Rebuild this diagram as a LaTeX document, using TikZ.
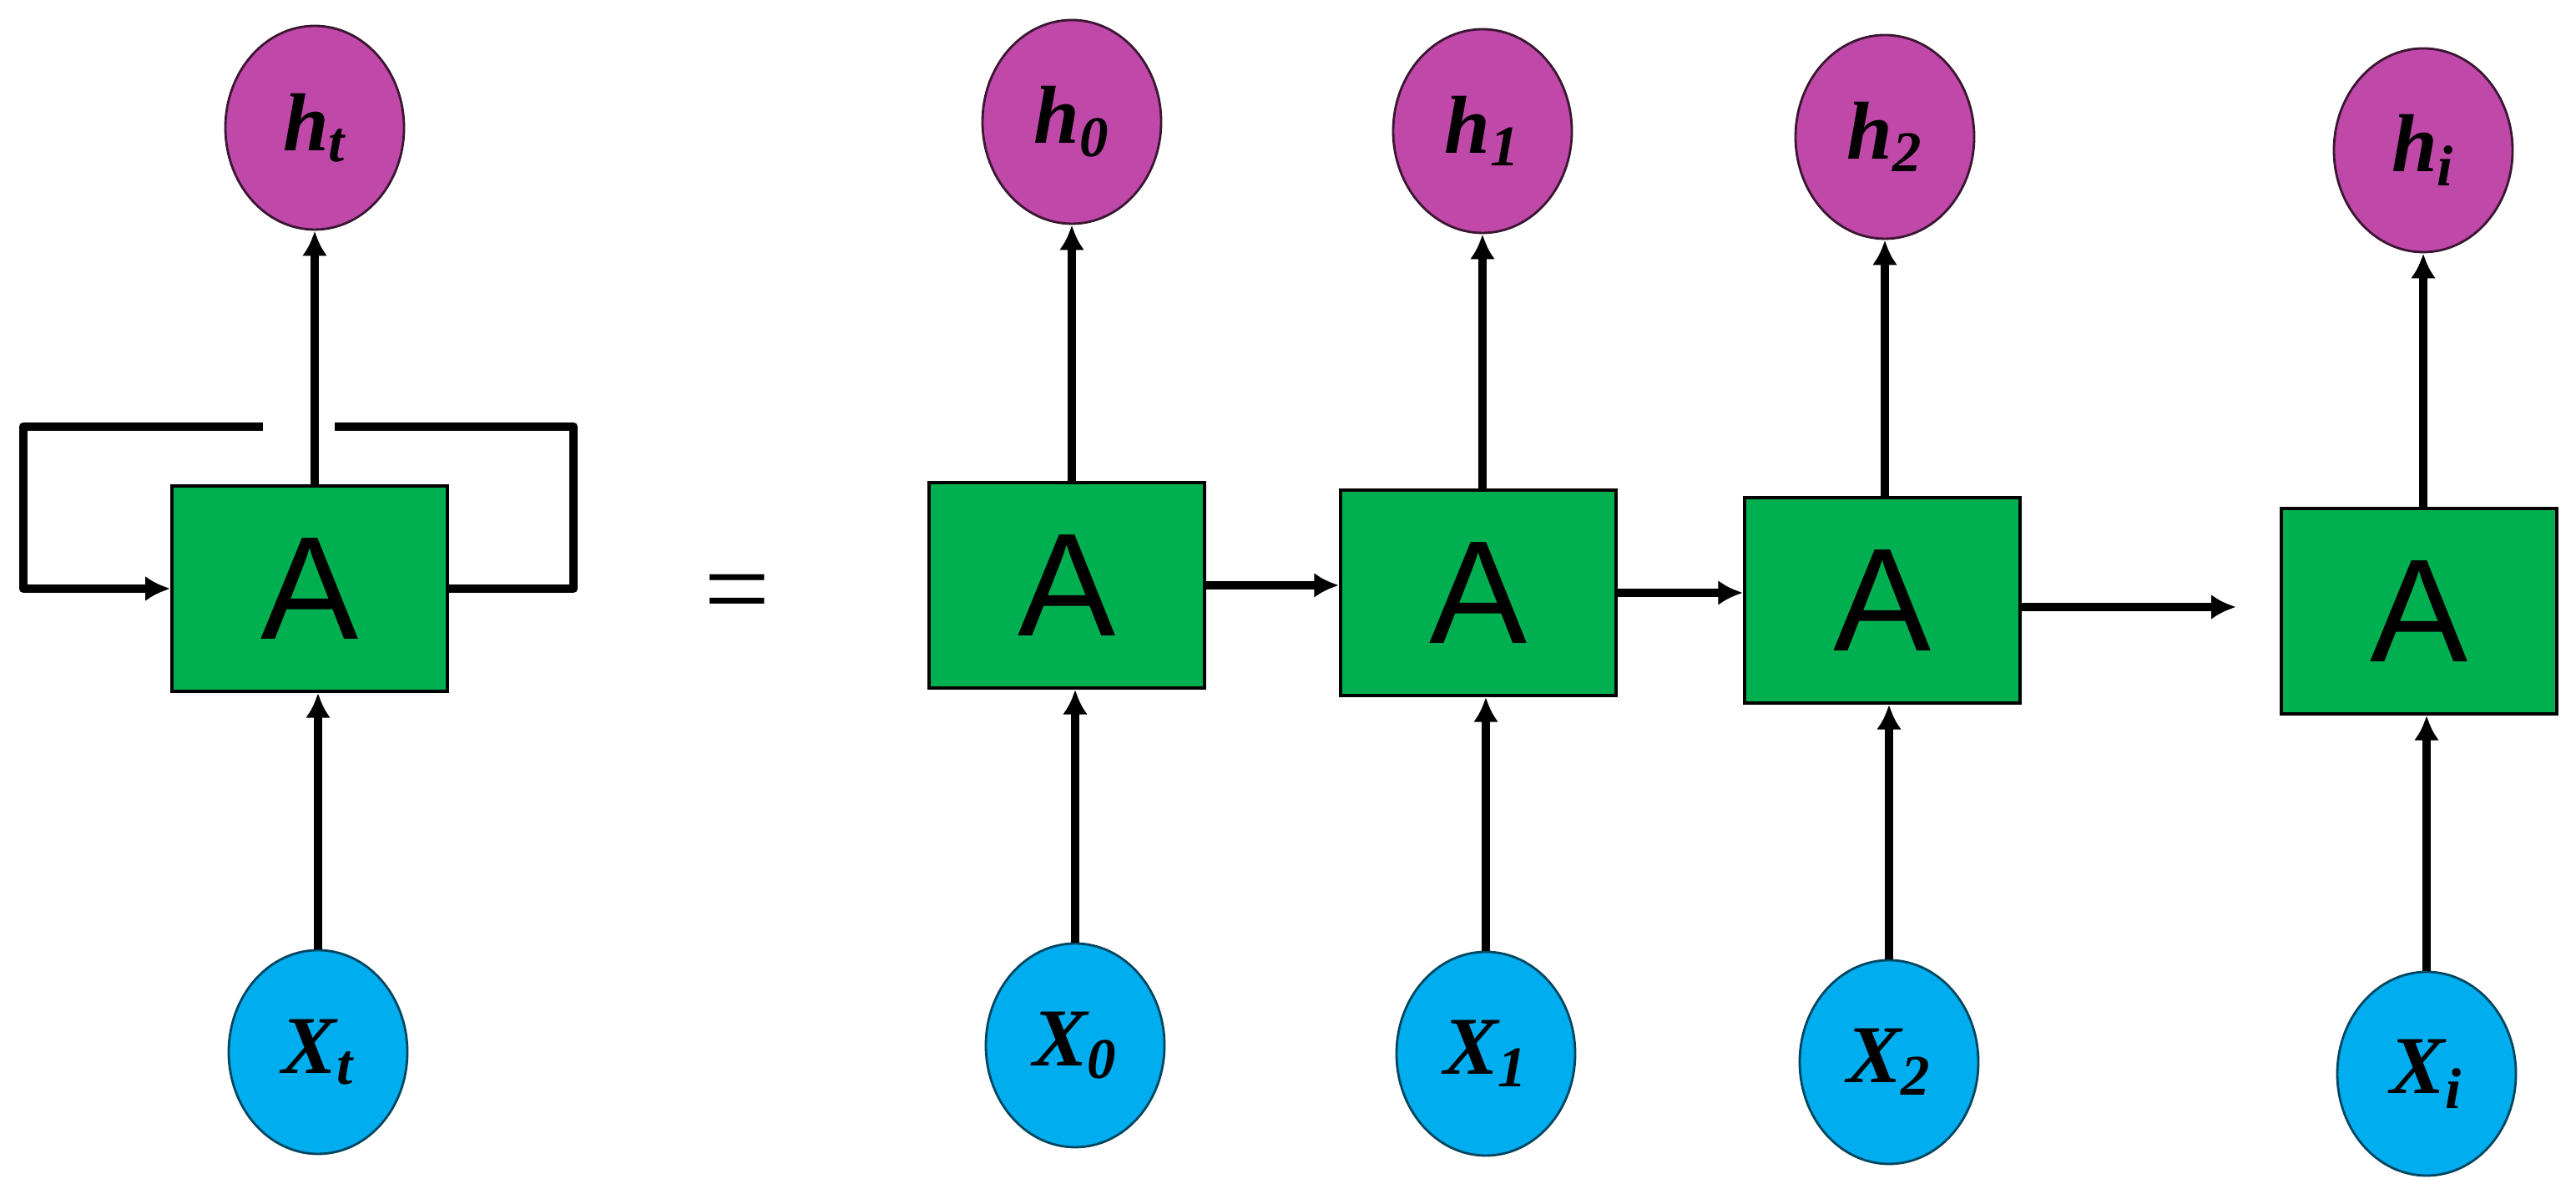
\documentclass[tikz,border=0pt]{standalone}
\usepackage{fontspec}
\setmainfont{Liberation Serif}
\newfontfamily\boxfont{Liberation Sans}
\usetikzlibrary{arrows.meta}
\definecolor{outmag}{RGB}{192,72,168}
\definecolor{incyan}{RGB}{0,174,239}
\definecolor{cellgreen}{RGB}{0,176,80}
\tikzset{
	cell/.style = {draw = black, line width = 1pt, fill = cellgreen, minimum width = 3.3cm, minimum height = 2.46cm, inner sep = 0pt, font = \boxfont\fontsize{50}{50}\selectfont},
	hid/.style = {ellipse, draw = black!70!outmag, line width = 0.8pt, fill = outmag, minimum width = 2.14cm, minimum height = 2.44cm, inner sep = 0pt, font = \fontsize{28}{28}\selectfont\bfseries\itshape},
	inp/.style = {ellipse, draw = black!60!incyan, line width = 0.8pt, fill = incyan, minimum width = 2.14cm, minimum height = 2.44cm, inner sep = 0pt, font = \fontsize{28}{28}\selectfont\bfseries\itshape},
	flow/.style = {line width = 3pt, -{Latex[length = 0.3cm, width = 0.3cm]}},
}
\usetikzlibrary{shapes.geometric}
\begin{document}
\begin{tikzpicture}
	\useasboundingbox (0,0) rectangle (30.86,14.3);
	% folded network
	\node[cell] (a) at (3.71,7.25) {A};
	\node[hid] (ht) at (3.77,12.77) {h\textsubscript{t}};
	\node[inp] (xt) at (3.81,1.70) {X\textsubscript{t}};
	\draw[flow] (xt) -- (a.south -| xt);
	\draw[flow] (a.north -| ht) -- (ht);
	\coordinate (gl) at (3.15,9.19);
	\coordinate (gr) at (4.01,9.19);
	\draw[line width = 3pt, line join = round] (gr) -- (6.87,9.19) |- (a.east);
	\draw[flow, line join = round] (gl) -- (0.28,9.19) |- (a.west);
	\node[font = \fontsize{40}{40}\selectfont] (eq) at (8.83,7.1) {=};
	% unrolled network
	\node[cell] (a0) at (12.78,7.29) {A};
	\node[cell] (a1) at (17.71,7.2) {A};
	\node[cell] (a2) at (22.55,7.11) {A};
	\node[cell] (ai) at (28.98,6.98) {A};
	\node[hid] (h0) at (12.84,12.84) {h\textsubscript{0}};
	\node[hid] (h1) at (17.76,12.73) {h\textsubscript{1}};
	\node[hid] (h2) at (22.58,12.66) {h\textsubscript{2}};
	\node[hid] (hi) at (29.03,12.5) {h\textsubscript{i}};
	\node[inp] (x0) at (12.88,1.78) {X\textsubscript{0}};
	\node[inp] (x1) at (17.8,1.68) {X\textsubscript{1}};
	\node[inp] (x2) at (22.63,1.58) {X\textsubscript{2}};
	\node[inp] (xi) at (29.07,1.44) {X\textsubscript{i}};
	\foreach \s in {0,1,2,i} {
		\draw[flow] (x\s) -- (a\s.south -| x\s);
		\draw[flow] (a\s.north -| h\s) -- (h\s);
	}
	\coordinate (gap) at (26.79,7.03);
	\draw[flow] (a0.east) -- (a1.west |- a0.east);
	\draw[flow] (a1.east) -- (a2.west |- a1.east);
	\draw[flow] (a2.east |- gap) -- (gap);
\end{tikzpicture}
\end{document}
